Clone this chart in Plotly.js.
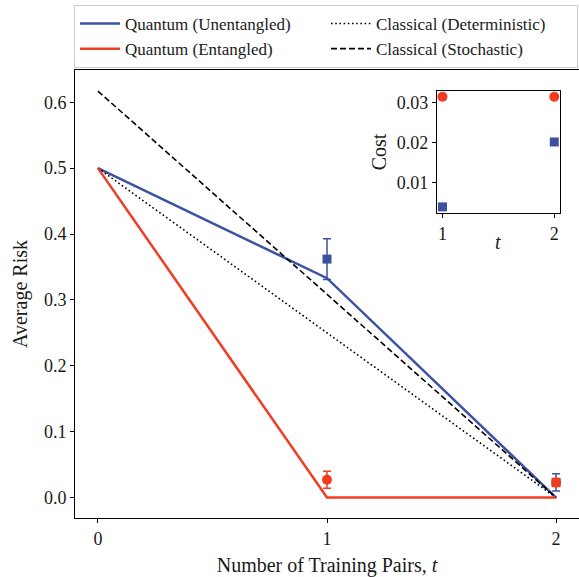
<!DOCTYPE html>
<html>
<head>
<meta charset="utf-8">
<script src="https://cdn.plot.ly/plotly-3.0.1.min.js"></script>
<style>html,body{margin:0;padding:0;background:#fff;}#plot{width:579px;height:577px;}</style>
</head>
<body>
<div id="plot"></div>
<script>
// ---- data ----
const tLine = [0, 1, 2];
const unentangledLine = [0.5, 0.333, 0.0];
const entangledLine = [0.5, 0.0, 0.0];
const classicalDet = [0.5, 0.25, 0.0];
const classicalSto = [0.617, 0.3085, 0.0];

const tMeas = [1, 2];
const unentangledMeas = [0.362, 0.023];
const unentangledErr = [0.031, 0.013];
const entangledMeas = [0.027, 0.023];
const entangledErr = [0.013, 0.006];

const tCost = [1, 2];
const costUnentangled = [0.004, 0.0202];
const costEntangled = [0.0315, 0.0315];

const mainTicksX = [0, 1, 2];
const mainTicksY = [0.0, 0.1, 0.2, 0.3, 0.4, 0.5, 0.6];
const insetTicksY = [0.01, 0.02, 0.03];

const BLUE = '#3c52a1';
const RED = '#f23c22';
const FONT = 'Liberation Serif';
const TXT = '#1a1a1a';

const traces = [
  {x: tLine, y: unentangledLine, mode: 'lines', name: 'Quantum (Unentangled)',
   line: {color: BLUE, width: 2.5}},
  {x: tLine, y: classicalDet, mode: 'lines', name: 'Classical (Deterministic)',
   line: {color: 'black', width: 1.6, dash: '1.6px,2.6px'}},
  {x: tLine, y: entangledLine, mode: 'lines', name: 'Quantum (Entangled)',
   line: {color: RED, width: 2.5}},
  {x: tLine, y: classicalSto, mode: 'lines', name: 'Classical (Stochastic)',
   line: {color: 'black', width: 1.6, dash: '6px,3px'}},
  {x: tMeas, y: unentangledMeas, mode: 'markers', showlegend: false,
   marker: {symbol: 'square', size: 9, color: BLUE},
   error_y: {type: 'data', array: unentangledErr, color: BLUE, thickness: 1.5, width: 4}},
  {x: tMeas, y: entangledMeas, mode: 'markers', showlegend: false,
   marker: {symbol: 'circle', size: 10, color: RED},
   error_y: {type: 'data', array: entangledErr, color: RED, thickness: 1.5, width: 4}},
  {x: tCost, y: costUnentangled, mode: 'markers', showlegend: false, xaxis: 'x2', yaxis: 'y2',
   marker: {symbol: 'square', size: 9, color: BLUE}, cliponaxis: false},
  {x: tCost, y: costEntangled, mode: 'markers', showlegend: false, xaxis: 'x2', yaxis: 'y2',
   marker: {symbol: 'circle', size: 10, color: RED}, cliponaxis: false}
];

const axisCommon = {
  showline: true, mirror: true, linecolor: 'black', linewidth: 1,
  ticks: 'outside', ticklen: 4, tickwidth: 1, tickcolor: 'black',
  showgrid: false, zeroline: false,
  tickfont: {family: FONT, size: 18, color: TXT}
};

const layout = {
  width: 579, height: 577,
  margin: {l: 75, r: 0, t: 70, b: 59},
  paper_bgcolor: 'white', plot_bgcolor: 'white',
  font: {family: FONT, size: 18, color: TXT},
  showlegend: true,
  legend: {
    orientation: 'h', x: -0.002, xanchor: 'left', y: (518 - 5) / 448, yanchor: 'top',
    entrywidth: 196, entrywidthmode: 'pixels', itemwidth: 40,
    bordercolor: '#cccccc', borderwidth: 1, bgcolor: 'white',
    font: {family: FONT, size: 17, color: TXT},
    traceorder: 'normal', tracegroupgap: 0
  },
  xaxis: Object.assign({}, axisCommon, {
    domain: [0, 1], range: [-0.1, 2.1], tickvals: mainTicksX, ticktext: mainTicksX.map(String),
    title: {text: 'Number of Training Pairs, <i>t</i>', font: {family: FONT, size: 20, color: TXT}, standoff: 10}
  }),
  yaxis: Object.assign({}, axisCommon, {
    domain: [0, 1], range: [-0.031, 0.649], tickvals: mainTicksY, ticktext: mainTicksY.map(v => v.toFixed(1)),
    title: {text: 'Average Risk', font: {family: FONT, size: 20, color: TXT}, standoff: 10}
  }),
  xaxis2: Object.assign({}, axisCommon, {
    domain: [0.718, 0.962], anchor: 'y2', range: [0.95, 2.05], tickvals: [1, 2], ticktext: ['1', '2']
  }),
  yaxis2: Object.assign({}, axisCommon, {
    domain: [0.681, 0.953], anchor: 'x2', range: [0.0025, 0.0329], tickvals: insetTicksY,
    ticktext: insetTicksY.map(v => v.toFixed(2)),
    title: {text: 'Cost', font: {family: FONT, size: 20, color: TXT}, standoff: 4}
  }),
  annotations: [
    {text: '<i>t</i>', xref: 'x2 domain', yref: 'paper', x: 0.5, y: (518 - 242) / 448,
     xanchor: 'center', yanchor: 'middle', showarrow: false,
     font: {family: FONT, size: 20, color: TXT}}
  ]
};

Plotly.newPlot('plot', traces, layout, {displayModeBar: false, staticPlot: true});
</script>
</body>
</html>
